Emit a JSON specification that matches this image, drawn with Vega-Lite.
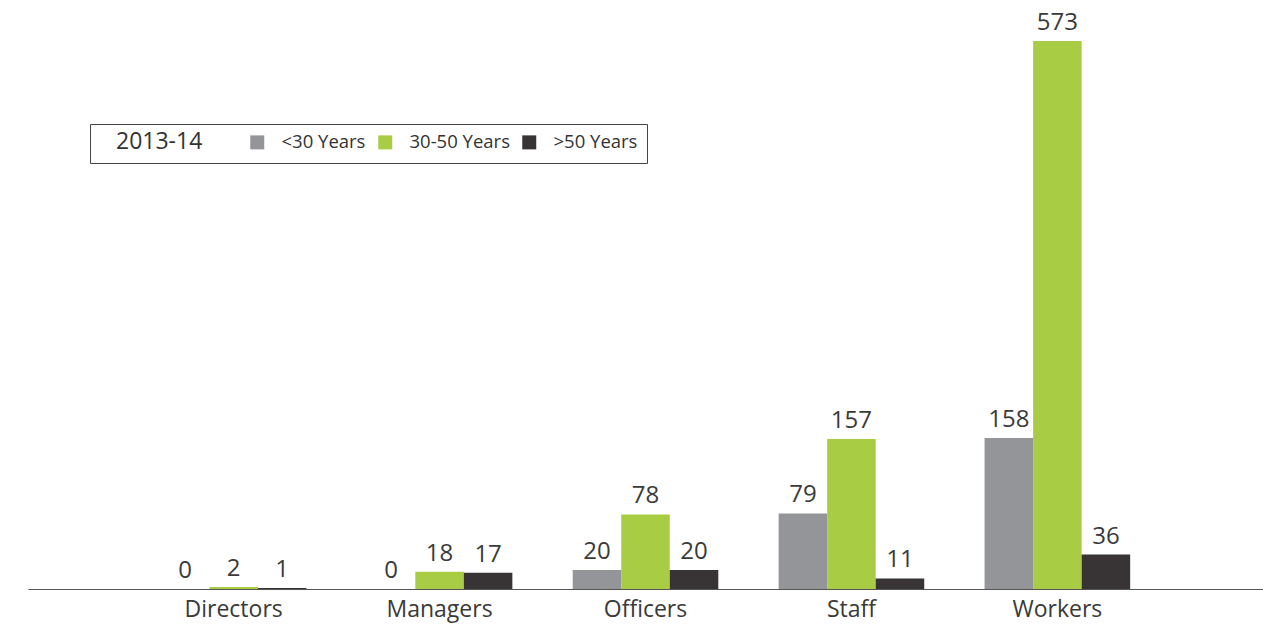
{
  "$schema": "https://vega.github.io/schema/vega-lite/v6.json",
  "width": 1235,
  "height": 589,
  "autosize": {"type": "none"},
  "padding": {"left": 28, "top": 0, "right": 0, "bottom": 38},
  "background": "white",
  "config": {
    "view": {"stroke": null},
    "font": "Open Sans"
  },
  "data": {
    "values": [
      {"role": "Directors", "age": "<30 Years", "count": 0},
      {"role": "Directors", "age": "30-50 Years", "count": 2},
      {"role": "Directors", "age": ">50 Years", "count": 1},
      {"role": "Managers", "age": "<30 Years", "count": 0},
      {"role": "Managers", "age": "30-50 Years", "count": 18},
      {"role": "Managers", "age": ">50 Years", "count": 17},
      {"role": "Officers", "age": "<30 Years", "count": 20},
      {"role": "Officers", "age": "30-50 Years", "count": 78},
      {"role": "Officers", "age": ">50 Years", "count": 20},
      {"role": "Staff", "age": "<30 Years", "count": 79},
      {"role": "Staff", "age": "30-50 Years", "count": 157},
      {"role": "Staff", "age": ">50 Years", "count": 11},
      {"role": "Workers", "age": "<30 Years", "count": 158},
      {"role": "Workers", "age": "30-50 Years", "count": 573},
      {"role": "Workers", "age": ">50 Years", "count": 36}
    ]
  },
  "encoding": {
    "x": {
      "field": "role",
      "type": "nominal",
      "sort": ["Directors", "Managers", "Officers", "Staff", "Workers"],
      "scale": {"paddingInner": 0.293, "paddingOuter": 0.645},
      "axis": {
        "title": null,
        "labelAngle": 0,
        "labelFontSize": 23,
        "labelColor": "#3a3a3a",
        "labelPadding": 9,
        "ticks": false,
        "domainColor": "#555555",
        "domainWidth": 1.2
      }
    },
    "xOffset": {
      "field": "age",
      "type": "nominal",
      "sort": ["<30 Years", "30-50 Years", ">50 Years"],
      "scale": {"paddingInner": 0, "paddingOuter": 0}
    },
    "y": {
      "field": "count",
      "type": "quantitative",
      "scale": {"domain": [0, 616], "nice": false},
      "axis": null
    }
  },
  "layer": [
    {
      "mark": {"type": "bar"},
      "encoding": {
        "color": {
          "field": "age",
          "type": "nominal",
          "sort": ["<30 Years", "30-50 Years", ">50 Years"],
          "scale": {
            "domain": ["<30 Years", "30-50 Years", ">50 Years"],
            "range": ["#939598", "#a8cd45", "#383435"]
          },
          "legend": {
            "orient": "none",
            "legendX": 62,
            "legendY": 124,
            "direction": "horizontal",
            "title": "\u28002013-14",
            "titleOrient": "left",
            "titleFontSize": 23,
            "titleFontWeight": "normal",
            "titleColor": "#333333",
            "titlePadding": 45,
            "titleBaseline": "middle",
            "labelFontSize": 18.5,
            "labelColor": "#333333",
            "labelOffset": 15,
            "symbolType": "square",
            "symbolSize": 196,
            "symbolStrokeWidth": 0,
            "columnPadding": 10,
            "padding": 9,
            "strokeColor": "#444444",
            "fillColor": "white"
          }
        }
      }
    },
    {
      "mark": {
        "type": "text",
        "fontSize": 24,
        "color": "#3a3a3a",
        "baseline": "alphabetic",
        "dy": -11
      },
      "encoding": {
        "text": {"field": "count", "type": "quantitative"}
      }
    }
  ]
}
